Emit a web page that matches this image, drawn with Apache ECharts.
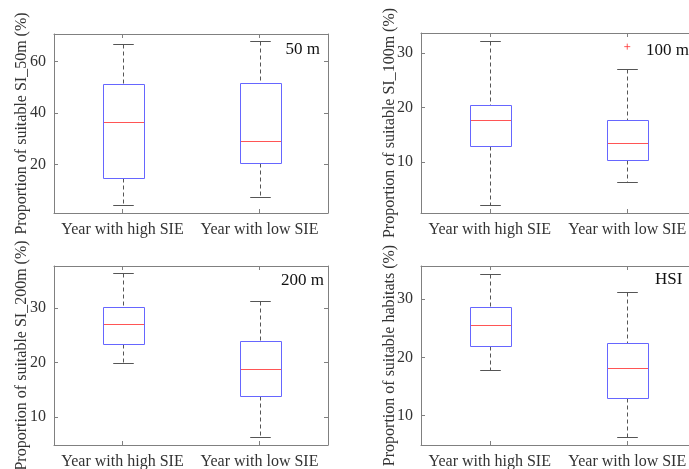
<!DOCTYPE html>
<html>
<head>
<meta charset="utf-8">
<title>Suitable habitat proportion boxplots</title>
<script src="https://cdn.jsdelivr.net/npm/echarts@6/dist/echarts.min.js"></script>
<style>
  html, body { margin: 0; padding: 0; background: #fff; }
  #main { width: 689px; height: 469px; }
</style>
</head>
<body>
<div id="main"></div>
<script>
// categories on every x axis
var categories = ['Year with high SIE', 'Year with low SIE'];

// each box: [min, q1, median, q3, max]
var sl50 = [[4.3, 14.9, 36.4, 51.1, 66.8], [7.4, 20.6, 29.2, 51.5, 67.7]];
var sl100 = [[2.1, 12.9, 17.7, 20.5, 32.3], [6.3, 10.4, 13.6, 17.7, 27.1]];
var sl100Outliers = [[1, 31.2]];
var sl200 = [[19.8, 23.3, 27.1, 30.2, 36.4], [6.3, 13.9, 18.8, 23.9, 31.2]];
var hsi = [[17.8, 22.0, 25.6, 28.7, 34.4], [6.3, 13.0, 18.2, 22.4, 31.3]];

// tick labels
var ticks50 = [20, 40, 60];
var ticks100 = [10, 20, 30];
var ticks200 = [10, 20, 30];
var ticksHsi = [10, 20, 30];

var yNames = [
  'Proportion of suitable SI_50m (%)',
  'Proportion of suitable SI_100m (%)',
  'Proportion of suitable SI_200m (%)',
  'Proportion of suitable habitats (%)'
];
var tags = ['50 m', '100 m', '200 m', 'HSI'];

var FONT = 'Liberation Serif';
var AXIS = '#808080';
var TXT = '#333333';

var panels = [
  { data: sl50, ticks: ticks50, min: 1.3, max: 70.6, grid: { left: 54, top: 34, width: 274, height: 179 }, gap: 24 },
  { data: sl100, ticks: ticks100, min: 0.7, max: 33.7, grid: { left: 421, top: 33, width: 275, height: 180 }, gap: 23 },
  { data: sl200, ticks: ticks200, min: 4.84, max: 37.66, grid: { left: 54, top: 266, width: 274, height: 179 }, gap: 24 },
  { data: hsi, ticks: ticksHsi, min: 4.88, max: 35.74, grid: { left: 421, top: 266, width: 275, height: 179 }, gap: 23 }
];

function px(v) { return Math.round(v) + 0.5; }

function renderBox(params, api) {
  var x = api.value(0);
  var lo = api.coord([x, api.value(1)]);
  var q1 = api.coord([x, api.value(2)]);
  var md = api.coord([x, api.value(3)]);
  var q3 = api.coord([x, api.value(4)]);
  var hi = api.coord([x, api.value(5)]);
  var band = api.size([1, 0])[0];
  var bw = band * 0.3, cw = band * 0.15;
  var cx = px(lo[0]);
  var dash = { stroke: '#555', lineWidth: 1, lineDash: [4, 3] };
  var solid = { stroke: '#555', lineWidth: 1 };
  return {
    type: 'group',
    children: [
      { type: 'line', shape: { x1: cx, y1: px(hi[1]), x2: cx, y2: px(q3[1]) }, style: dash },
      { type: 'line', shape: { x1: cx, y1: px(q1[1]), x2: cx, y2: px(lo[1]) }, style: dash },
      { type: 'line', shape: { x1: cx - cw / 2, y1: px(hi[1]), x2: cx + cw / 2, y2: px(hi[1]) }, style: solid },
      { type: 'line', shape: { x1: cx - cw / 2, y1: px(lo[1]), x2: cx + cw / 2, y2: px(lo[1]) }, style: solid },
      { type: 'rect', shape: { x: Math.round(cx - bw / 2) + 0.5, y: px(q3[1]), width: Math.round(bw), height: px(q1[1]) - px(q3[1]) },
        style: { fill: 'none', stroke: '#6666ff', lineWidth: 1 } },
      { type: 'line', shape: { x1: Math.round(cx - bw / 2) + 1, y1: px(md[1]), x2: Math.round(cx - bw / 2) + Math.round(bw), y2: px(md[1]) },
        style: { stroke: '#ff5555', lineWidth: 1 } }
    ]
  };
}

var grids = [], xAxes = [], yAxes = [], series = [];
panels.forEach(function (p, i) {
  grids.push(Object.assign({ outerBoundsMode: 'none', containLabel: false }, p.grid));
  var line = { show: true, lineStyle: { color: AXIS, width: 1 } };
  var tick = { show: true, inside: true, length: 4, alignWithLabel: true, lineStyle: { color: AXIS } };
  xAxes.push({
    type: 'category', gridIndex: i, data: categories, position: 'bottom',
    axisLine: line, axisTick: tick,
    axisLabel: { interval: 0, margin: 9, color: TXT, fontSize: 16, fontFamily: FONT }
  });
  xAxes.push({
    type: 'category', gridIndex: i, data: categories, position: 'top',
    axisLine: line, axisTick: tick, axisLabel: { show: false }
  });
  var yTick = { show: true, inside: true, length: 4, customValues: p.ticks, lineStyle: { color: AXIS } };
  yAxes.push({
    type: 'value', gridIndex: i, min: p.min, max: p.max, position: 'left',
    name: yNames[i], nameLocation: 'middle', nameGap: p.gap, nameMoveOverlap: false,
    nameTextStyle: { color: TXT, fontSize: 16, fontFamily: FONT },
    axisLine: line, axisTick: yTick, splitLine: { show: false },
    axisLabel: { customValues: p.ticks, margin: 8, color: TXT, fontSize: 16, fontFamily: FONT }
  });
  yAxes.push({
    type: 'value', gridIndex: i, min: p.min, max: p.max, position: 'right',
    axisLine: line, axisTick: yTick, splitLine: { show: false }, axisLabel: { show: false }
  });
  series.push({
    type: 'custom', xAxisIndex: i * 2, yAxisIndex: i * 2, renderItem: renderBox,
    encode: { x: 0, y: [1, 2, 3, 4, 5] }, silent: true,
    data: p.data.map(function (b, k) { return [k].concat(b); })
  });
});

series.push({
  type: 'scatter', xAxisIndex: 2, yAxisIndex: 2, data: sl100Outliers, silent: true,
  symbol: 'path://M0,5L10,5M5,0L5,10', symbolSize: 6,
  itemStyle: { color: 'none', borderColor: '#ff3333', borderWidth: 1 }
});

var tagStyle = { fontSize: 17, fontFamily: FONT, fill: '#111' };
var graphic = [
  { type: 'text', right: 689 - 320, top: 41, style: Object.assign({ text: tags[0] }, tagStyle) },
  { type: 'text', left: 646, top: 42, style: Object.assign({ text: tags[1] }, tagStyle) },
  { type: 'text', right: 689 - 324, top: 272, style: Object.assign({ text: tags[2] }, tagStyle) },
  { type: 'text', left: 655, top: 271, style: Object.assign({ text: tags[3] }, tagStyle) }
];

var chart = echarts.init(document.getElementById('main'));
chart.setOption({
  animation: false,
  backgroundColor: '#fff',
  textStyle: { fontFamily: FONT },
  grid: grids,
  xAxis: xAxes,
  yAxis: yAxes,
  series: series,
  graphic: graphic
});
</script>
</body>
</html>
